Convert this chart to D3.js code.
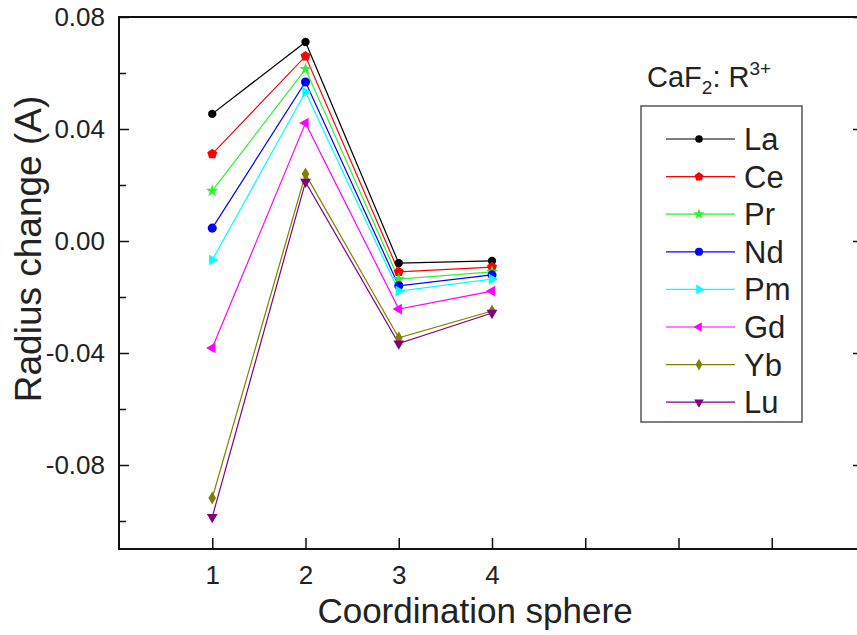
<!DOCTYPE html>
<html>
<head>
<meta charset="utf-8">
<script src="https://cdn.jsdelivr.net/npm/d3@7"></script>
<style>
  body { margin: 0; background: #fff; }
  text { font-family: Arial, "Liberation Sans", Helvetica, sans-serif; }
</style>
</head>
<body>
<div id="chart"></div>
<script>
var spheres = [1, 2, 3, 4];
var ions = ["La", "Ce", "Pr", "Nd", "Pm", "Gd", "Yb", "Lu"];
var La = [0.0454, 0.0711, -0.0079, -0.0071];
var Ce = [0.0311, 0.0660, -0.0110, -0.0093];
var Pr = [0.0179, 0.0614, -0.0136, -0.0110];
var Nd = [0.0046, 0.0568, -0.0160, -0.0121];
var Pm = [-0.0068, 0.0532, -0.0179, -0.0136];
var Gd = [-0.0382, 0.0421, -0.0243, -0.0179];
var Yb = [-0.0918, 0.0239, -0.0346, -0.0250];
var Lu = [-0.0986, 0.0211, -0.0366, -0.0257];
var xTicks = [1, 2, 3, 4, 5, 6, 7, 8];
var xTickLabels = ["1", "2", "3", "4", "", "", "", ""];
var yMajor = [-0.08, -0.04, 0.00, 0.04, 0.08];
var yMinor = [-0.10, -0.06, -0.02, 0.02, 0.06];

var values = [La, Ce, Pr, Nd, Pm, Gd, Yb, Lu];
var colors = ["#000000", "#ff0000", "#33ee33", "#0000ff", "#00ffff", "#ff00ff", "#808000", "#800080"];

// pentagon marker for Ce
var pentagon = {
    draw: function(ctx, size) {
        var r = Math.sqrt(size / 2.378);
        for (var i = 0; i < 5; i++) {
            var a = -Math.PI / 2 + i * 2 * Math.PI / 5;
            if (i == 0) ctx.moveTo(r * Math.cos(a), r * Math.sin(a));
            else ctx.lineTo(r * Math.cos(a), r * Math.sin(a));
        }
        ctx.closePath();
    }
};
var markers = [
    {type: d3.symbolCircle, size: 55, rot: 0},
    {type: pentagon, size: 65, rot: 0},
    {type: d3.symbolStar, size: 50, rot: 0},
    {type: d3.symbolCircle, size: 65, rot: 0},
    {type: d3.symbolTriangle, size: 50, rot: 90},
    {type: d3.symbolTriangle, size: 50, rot: -90},
    {type: d3.symbolDiamond, size: 50, rot: 0},
    {type: d3.symbolTriangle, size: 50, rot: 180}
];

var width = 857, height = 635;

var svg = d3.select("#chart").append("svg")
    .attr("width", width)
    .attr("height", height);

var x = d3.scaleLinear().domain([0, 8]).range([119, 865]);
var y = d3.scaleLinear().domain([-0.11, 0.08]).range([549, 17]);

var fmt = function(d) { return d3.format(".2f")(d).replace("\u2212", "-"); };

// minor y ticks
svg.append("g")
    .attr("transform", "translate(119,0)")
    .call(d3.axisLeft(y).tickValues(yMinor).tickSize(-7).tickFormat(""))
    .call(g => g.select(".domain").remove());
svg.append("g")
    .attr("transform", "translate(865,0)")
    .call(d3.axisRight(y).tickValues(yMinor).tickSize(-7).tickFormat(""))
    .call(g => g.select(".domain").remove());

// major y ticks
var yAxis = svg.append("g")
    .attr("transform", "translate(119,0)")
    .call(d3.axisLeft(y).tickValues(yMajor).tickSize(-10).tickPadding(14).tickFormat(fmt));
yAxis.select(".domain").remove();
yAxis.selectAll("text").style("font-size", "26px").attr("fill", "#222");
svg.append("g")
    .attr("transform", "translate(865,0)")
    .call(d3.axisRight(y).tickValues(yMajor).tickSize(-12).tickFormat(""))
    .call(g => g.select(".domain").remove());

// x ticks
var xAxis = svg.append("g")
    .attr("transform", "translate(0,549)")
    .call(d3.axisBottom(x).tickValues(xTicks).tickSize(-11).tickPadding(17)
        .tickFormat((d, i) => xTickLabels[i]));
xAxis.select(".domain").remove();
xAxis.selectAll("text").style("font-size", "26px").attr("fill", "#222");

svg.selectAll(".tick line").attr("stroke", "#111").attr("stroke-width", 1.5);

// frame
svg.append("rect")
    .attr("x", 119).attr("y", 17)
    .attr("width", 865 - 119).attr("height", 549 - 17)
    .attr("fill", "none")
    .attr("stroke", "#111")
    .attr("stroke-width", 2);

// axis titles
svg.append("text")
    .attr("x", 475).attr("y", 623)
    .style("text-anchor", "middle")
    .style("font-size", "35px")
    .attr("fill", "#222")
    .text("Coordination sphere");
svg.append("text")
    .attr("transform", "translate(41,249) rotate(-90)")
    .style("text-anchor", "middle")
    .style("font-size", "37px")
    .attr("fill", "#222")
    .text("Radius change (A)");

// lines + markers
var line = d3.line()
    .x((d, i) => x(spheres[i]))
    .y(d => y(d));

ions.forEach(function(ion, k) {
    svg.append("path")
        .datum(values[k])
        .attr("d", line)
        .attr("fill", "none")
        .attr("stroke", colors[k])
        .attr("stroke-width", 1.2);
});
ions.forEach(function(ion, k) {
    var m = markers[k];
    svg.selectAll(".m" + k)
        .data(values[k])
        .enter()
        .append("path")
        .attr("d", d3.symbol().type(m.type).size(m.size))
        .attr("transform", (d, i) => "translate(" + x(spheres[i]) + "," + y(d) + ") rotate(" + m.rot + ")")
        .attr("fill", colors[k]);
});

// title
var title = svg.append("text")
    .attr("x", 647).attr("y", 87)
    .style("font-size", "29px")
    .attr("fill", "#222");
title.append("tspan").text("CaF");
title.append("tspan").attr("dy", 7).style("font-size", "19px").text("2");
title.append("tspan").attr("dy", -7).text(": R");
title.append("tspan").attr("dy", -12).style("font-size", "19px").text("3+");

// legend
var legend = svg.append("g");
legend.append("rect")
    .attr("x", 641).attr("y", 106)
    .attr("width", 161).attr("height", 316)
    .attr("fill", "#fff")
    .attr("stroke", "#555")
    .attr("stroke-width", 1.5);

ions.forEach(function(ion, k) {
    var cy = 139 + k * 37.6;
    legend.append("line")
        .attr("x1", 666).attr("x2", 735)
        .attr("y1", cy).attr("y2", cy)
        .attr("stroke", colors[k])
        .attr("stroke-width", 1.2);
    legend.append("path")
        .attr("d", d3.symbol().type(markers[k].type).size(markers[k].size * 0.8))
        .attr("transform", "translate(699," + cy + ") rotate(" + markers[k].rot + ")")
        .attr("fill", colors[k]);
    legend.append("text")
        .attr("x", 744).attr("y", cy + 11)
        .style("font-size", "31px")
        .attr("fill", "#222")
        .text(ion);
});
</script>
</body>
</html>
